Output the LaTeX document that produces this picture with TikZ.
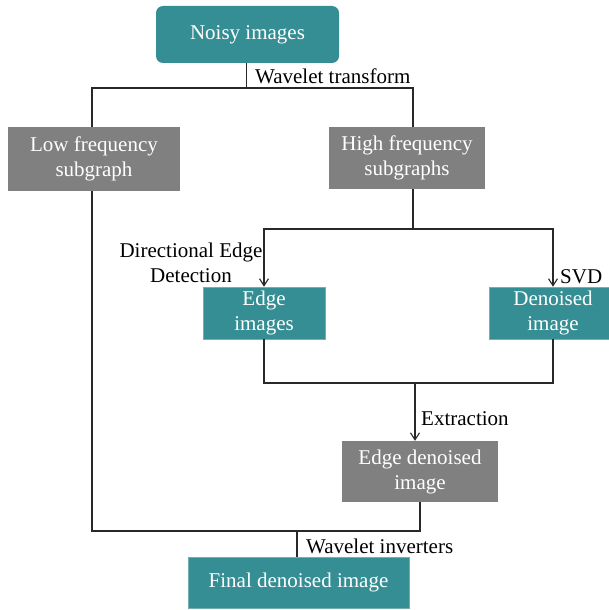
\documentclass[tikz,border=0pt]{standalone}
\usepackage{fontspec}
\setmainfont{Liberation Serif}
\usetikzlibrary{arrows.meta}
\definecolor{tealbox}{RGB}{53,142,147}
\definecolor{graybox}{RGB}{128,128,128}
\definecolor{linecol}{RGB}{40,40,40}
\begin{document}
\begin{tikzpicture}[x=1pt,y=-1pt,
  every node/.style={font=\fontsize{21}{25}\selectfont},
  box/.style={align=center, inner sep=0pt, text=white},
  tbox/.style={box, fill=tealbox, draw=tealbox!70!white, line width=0.6pt},
  gbox/.style={box, fill=graybox},
  lbl/.style={inner sep=0pt, text=black},
  conn/.style={draw=linecol, line width=1.2pt},
  arr/.style={conn, -{Straight Barb[length=7pt,width=9pt,line width=1.1pt]}}
]
\useasboundingbox (0,0) rectangle (608,610);

\node[tbox, minimum width=183pt, minimum height=57pt, rounded corners=7pt, draw=none] (noisy) at (247.5,34.5) {Noisy images};
\node[gbox, minimum width=172pt, minimum height=64pt] (low) at (94,159) {Low frequency\\subgraph};
\node[gbox, minimum width=156pt, minimum height=62pt] (high) at (407,158) {High frequency\\subgraphs};
\node[tbox, minimum width=122pt, minimum height=52pt] (edge) at (264,313) {Edge\\images};
\node[tbox, minimum width=128pt, minimum height=52pt] (den) at (553,313) {Denoised\\image};
\node[gbox, minimum width=156pt, minimum height=61pt] (ed) at (420,471.5) {Edge denoised\\image};
\node[tbox, minimum width=221pt, minimum height=51pt] (final) at (298.5,582.5) {Final denoised image};

\coordinate (j1) at (246.5,88);
\coordinate (j2) at (413,229);
\coordinate (j3) at (415,383);
\coordinate (j4) at (297,531);
\coordinate (lx) at (92,0);

\draw[conn] (j1 |- noisy.south) -- (j1);
\draw[conn] (lx |- low.north) |- (j1) -| (j2 |- high.north);
\draw[conn] (j2 |- high.south) -- (j2);
\draw[arr] (j2) -| (edge.north);
\draw[arr] (j2) -| (den.north);
\draw[conn] (edge.south) |- (j3) -| (den.south);
\draw[arr] (j3) -- (j3 |- ed.north);
\draw[conn] (lx |- low.south) |- (j4) -| (ed.south);
\draw[conn] (j4) -- (j4 |- final.north);

\node[lbl, anchor=base west] (lwt) at (255,84) {Wavelet transform};
\node[lbl, align=center, anchor=north] (lded) at (191,243) {Directional Edge\\Detection};
\node[lbl, anchor=base west] (lsvd) at (560,283) {SVD};
\node[lbl, anchor=base west] (lext) at (421,425) {Extraction};
\node[lbl, anchor=base west] (lwi) at (306,553) {Wavelet inverters};
\end{tikzpicture}
\end{document}
